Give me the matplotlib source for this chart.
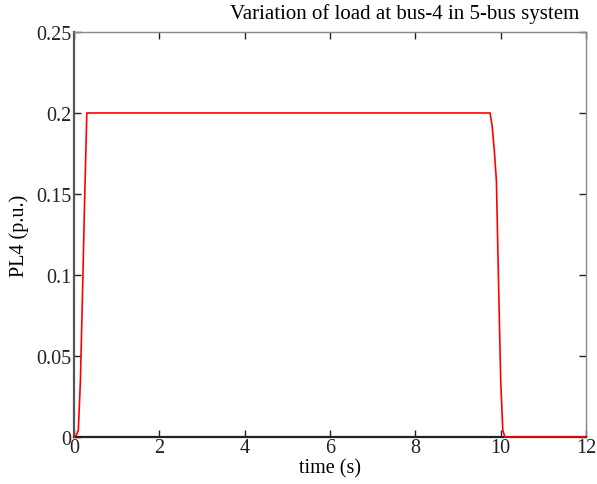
import numpy as np
from matplotlib import pyplot as plt

plt.rcParams['font.family'] = ['Liberation Serif', 'DejaVu Serif']

# load profile
time = [0, 0.05, 0.1, 0.15, 0.2, 0.25, 0.3,
        9.75, 9.8, 9.85, 9.9, 9.95, 10.0, 10.05, 10.1, 12]
load = [0, 0.001, 0.004, 0.035, 0.09, 0.148, 0.2,
        0.2, 0.192, 0.177, 0.158, 0.095, 0.035, 0.004, 0, 0]

xticks = [0, 2, 4, 6, 8, 10, 12]
yticks = [0, 0.05, 0.1, 0.15, 0.2, 0.25]
ylabels = ['0', '0.05', '0.1', '0.15', '0.2', '0.25']

fig = plt.figure(figsize=(5.97, 4.85), dpi=100)
ax = fig.add_axes([0.124, 0.097, 0.8576, 0.835])

ax.plot(time, load, color='red', lw=1.2, clip_on=False, zorder=5)

ax.set_xlim(0, 12)
ax.set_ylim(0, 0.25)
ax.set_xticks(xticks)
ax.set_yticks(yticks)
ax.set_yticklabels(ylabels)
ax.tick_params(direction='in', length=5, width=1, labelsize=14.5,
               top=True, right=True, pad=2, colors='#222222')
ax.tick_params(axis='x', pad=1)

for side in ['top', 'right']:
    ax.spines[side].set_color('#888888')
    ax.spines[side].set_linewidth(1.0)
ax.spines['left'].set_color('#555555')
ax.spines['left'].set_linewidth(1.6)
ax.spines['bottom'].set_color('#222222')
ax.spines['bottom'].set_linewidth(1.6)

ax.set_xlabel('time (s)', fontsize=14.5, labelpad=1)
ax.set_ylabel('PL4 (p.u.)', fontsize=14.5, labelpad=5)
fig.text(0.677, 0.971, 'Variation of load at bus-4 in 5-bus system',
         fontsize=15, ha='center', va='center')

fig.savefig('out.png', dpi=100)
